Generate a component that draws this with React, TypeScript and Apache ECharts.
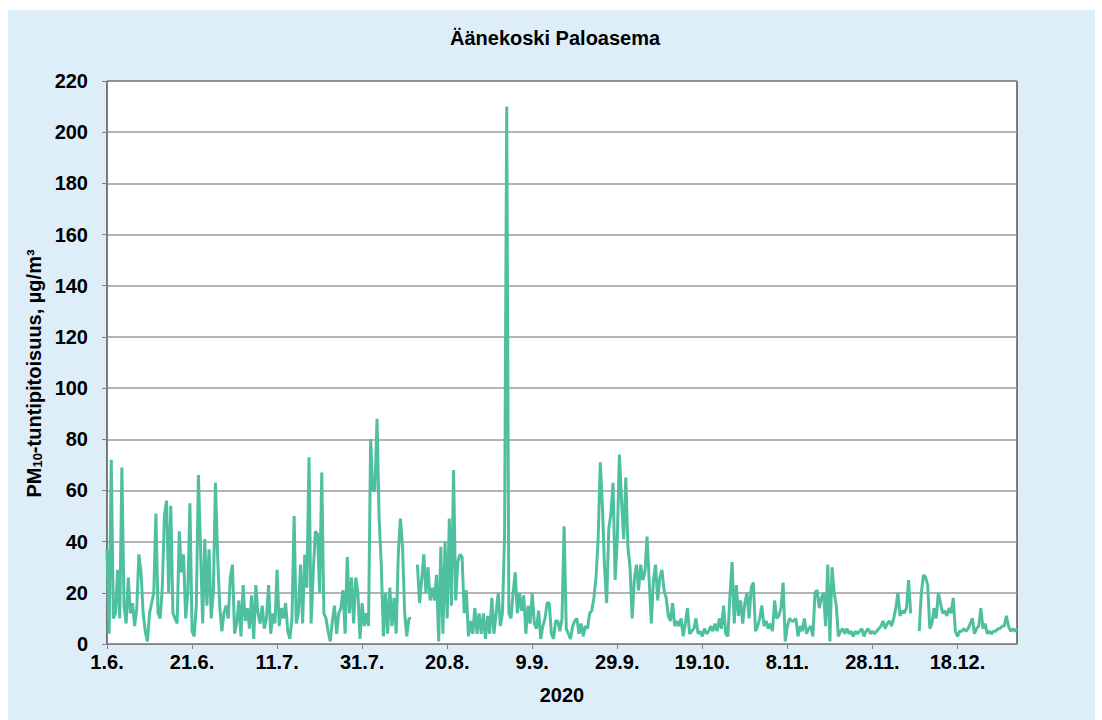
import React, { useEffect, useRef } from 'react';
import * as echarts from 'echarts';

// PM10 hourly concentration, sampled every 12 h (two values per day), starting 1.6.2020 00:00
const junValues = [
  37, 4, 72, 10, 12, 29, 10, 69, 15, 8, 26, 12, 16, 7, 14, 35, 28, 12, 5, 1,
  12, 16, 20, 51, 12, 10, 22, 50, 56, 20, 54, 12, 10, 8, 44, 28, 35, 10, 20, 55,
  5, 3, 15, 66, 37, 8, 41, 15, 37, 10, 20, 63, 35, 15, 5, 12, 15, 10, 26, 31,
];
const julValues = [
  4, 8, 17, 3, 23, 9, 14, 6, 19, 2, 23, 12, 8, 15, 6, 10, 23, 4, 12, 8,
  29, 7, 14, 10, 16, 5, 2, 10, 50, 8, 12, 31, 8, 35, 22, 73, 8, 28, 44, 43,
  20, 67, 12, 10, 5, 1, 9, 15, 4, 12, 14, 21, 4, 34, 12, 26, 8, 26, 20, 2,
  16, 7,
];
const augValues = [
  12, 7, 80, 60, 60, 88, 49, 31, 3, 20, 4, 22, 7, 18, 4, 35, 49, 38, 12, 3,
  10, 10, null, null, 31, 16, 25, 35, 20, 30, 17, 22, 17, 27, 1, 38, 4, 40, 10, 49,
  15, 68, 17, 32, 35, 34, 12, 21, 3, 9, 4, 14, 4, 12, 4, 12, 2, 11, 4, 18,
  4, 12,
];
const sepValues = [
  20, 7, 12, 43, 210, 12, 10, 20, 28, 12, 20, 13, 19, 4, 15, 8, 20, 8, 6, 13,
  2, 7, 10, 16, 16, 4, 2, 9, 9, 5, 10, 46, 6, 4, 2, 7, 9, 10, 4, 8,
  3, 7, 6, 12, 13, 18, 26, 41, 71, 54, 30, 16, 45, 51, 63, 25, 41, 74, 56, 41,
];
const octValues = [
  65, 38, 30, 10, 25, 31, 21, 31, 25, 28, 42, 25, 8, 25, 31, 17, 26, 29, 21, 18,
  11, 9, 16, 7, 9, 7, 10, 3, 8, 14, 4, 5, 6, 10, 4, 5, 3, 6, 4, 5,
  7, 5, 8, 5, 10, 6, 15, 4, 3, 19, 32, 8, 23, 11, 17, 8, 16, 20, 10, 22,
  24, 5,
];
const novValues = [
  7, 10, 15, 7, 9, 6, 8, 5, 17, 10, 11, 14, 24, 1, 7, 10, 9, 9, 10, 3,
  7, 5, 10, 4, 6, 7, 3, 20, 21, 14, 18, 20, 7, 31, 1, 30, 20, 15, 3, 5,
  6, 4, 6, 4, 5, 3, 5, 4, 5, 6, 3, 5, 6, 4, 5, 4, 5, 6, 7, 9,
];
const decValues = [
  6, 8, 9, 7, 10, 14, 20, 11, 13, 12, 14, 25, 12, null, null, null, 5, 20, 27, 26,
  23, 6, 8, 14, 10, 20, 16, 12, 13, 11, 14, 12, 18, 5, 3, 5, 5, 6, 5, 6,
  8, 10, 4, 6, 7, 14, 6, 8, 4, 5, 4, 5, 5, 6, 6, 7, 7, 11, 7, 5,
  6, 5, 6,
];

const TITLE = 'Äänekoski Paloasema';
const X_NAME = '2020';
const START_YEAR = 2020;
const START_MONTH = 5; // June (0-based)
const START_DAY = 1;
const DAYS_TOTAL = 214;
const STEP_DAYS = 0.5;

const FONT = 'Liberation Sans, Arial, sans-serif';

export default function App() {
  const ref = useRef<HTMLDivElement>(null);

  useEffect(() => {
    if (!ref.current) return;
    const chart = echarts.init(ref.current, undefined, { renderer: 'svg' });
    const all = [
      ...junValues, ...julValues, ...augValues, ...sepValues,
      ...octValues, ...novValues, ...decValues,
    ];
    const data = all.map((v, i) => [i * STEP_DAYS, v]);

    const fmtDate = (v: number) => {
      const d = new Date(START_YEAR, START_MONTH, START_DAY + Math.round(v));
      return `${d.getDate()}.${d.getMonth() + 1}.`;
    };

    chart.setOption({
      animation: false,
      backgroundColor: '#ffffff',
      graphic: [
        {
          type: 'rect',
          z: -100,
          silent: true,
          shape: { x: 8, y: 10, width: 1087, height: 710 },
          style: { fill: '#deeef9' },
        },
      ],
      title: {
        text: TITLE,
        left: 445,
        top: 23,
        textStyle: { fontFamily: FONT, fontSize: 20, fontWeight: 'bold', color: '#000' },
      },
      grid: {
        left: 107,
        top: 81,
        width: 910,
        height: 563,
        show: true,
        backgroundColor: '#ffffff',
        borderColor: '#000000',
        borderWidth: 1,
      },
      xAxis: {
        type: 'value',
        min: 0,
        max: DAYS_TOTAL,
        interval: 20,
        name: X_NAME,
        nameLocation: 'middle',
        nameGap: 41,
        nameTextStyle: { fontFamily: FONT, fontSize: 20, fontWeight: 'bold', color: '#000' },
        axisLine: { show: true, lineStyle: { color: '#808080', width: 1 } },
        axisTick: { show: true, length: 5, lineStyle: { color: '#808080' } },
        axisLabel: {
          formatter: fmtDate,
          showMaxLabel: false,
          margin: 8,
          fontFamily: FONT,
          fontSize: 20,
          fontWeight: 'bold',
          color: '#000',
        },
        splitLine: { show: false },
      },
      yAxis: {
        type: 'value',
        min: 0,
        max: 220,
        interval: 20,
        name: '{a|PM}{b|10}{a|-tuntipitoisuus, µg/m³}',
        nameLocation: 'middle',
        nameGap: 48,
        nameTextStyle: {
          padding: [0, 22, 0, 0],
          rich: {
            a: { fontFamily: FONT, fontSize: 20, fontWeight: 'bold', color: '#000' },
            b: { fontFamily: FONT, fontSize: 13, fontWeight: 'bold', color: '#000', verticalAlign: 'bottom' },
          },
        },
        axisLine: { show: true, lineStyle: { color: '#808080', width: 1 } },
        axisTick: { show: true, length: 5, lineStyle: { color: '#808080' } },
        axisLabel: {
          margin: 19,
          fontFamily: FONT,
          fontSize: 20,
          fontWeight: 'bold',
          color: '#000',
        },
        splitLine: { show: true, lineStyle: { color: '#9a9a9a', width: 1.5 } },
      },
      series: [
        {
          type: 'line',
          data,
          showSymbol: false,
          connectNulls: false,
          lineStyle: { color: '#4fc09f', width: 3 },
          itemStyle: { color: '#4fc09f' },
        },
      ],
    });
    return () => chart.dispose();
  }, []);

  return (
    <div
      ref={ref}
      style={{ position: 'absolute', left: 0, top: 0, width: 1102, height: 720 }}
    />
  );
}
